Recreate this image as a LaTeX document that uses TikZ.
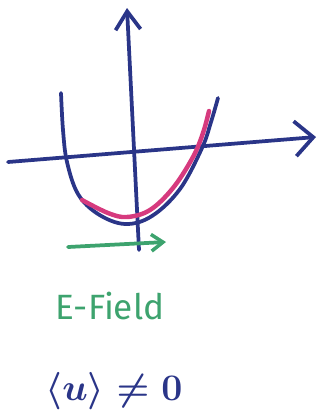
\RequirePackage{fix-cm}
\documentclass[tikz,border=0pt]{standalone}
\usepackage{fontspec}
\setmainfont{Fira Sans}
\usetikzlibrary{arrows.meta, positioning}
\definecolor{penblue}{HTML}{2A3588}
\definecolor{penpink}{HTML}{D63A7E}
\definecolor{pengreen}{HTML}{3DA36E}
\tikzset{
  pen/.style={line width=3.2pt, line cap=round, line join=round, draw=#1},
  axisarrow/.style={-{Straight Barb[length=0.55cm, width=#1, line width=3.2pt]}},
  label/.style={text=#1, font=\fontsize{30}{32}\selectfont, inner sep=0pt}
}
\begin{document}
\begin{tikzpicture}[x=0.03cm, y=-0.03cm]
    \useasboundingbox (0,0) rectangle (321,410);
    % Achsen
    \coordinate (ybot) at (139,250);
    \coordinate (ytop) at (127,8);
    \coordinate (xleft) at (8,162);
    \coordinate (xright) at (316,137);
    \draw[pen=penblue, axisarrow=0.75cm] (ybot) -- (ytop);
    \draw[pen=penblue, axisarrow=1.05cm] (xleft) -- (xright);

    % Potential
    \draw[pen=penblue] plot[smooth, tension=0.6] coordinates {
      (61,93) (63,130) (67,162) (78,194) (98,214) (125,224)
      (152,216) (180,189) (202,148) (211,122) (218,98)};
    \draw[pen=penpink, line width=3.8pt] plot[smooth, tension=0.6] coordinates {
      (82,200) (108,213) (127,217) (150,210) (173,188)
      (193,157) (203,133) (209,111)};

    % E-Feld
    \coordinate (efrom) at (68,247);
    \coordinate (eto) at (166,242);
    \draw[pen=pengreen, -{Straight Barb[length=0.35cm, width=0.5cm, line width=3pt]}]
      (efrom) -- (eto);
    \node[label=pengreen] (efield) at (110,306) {E-Field};
    \node[label=penblue, font=\fontsize{32}{34}\selectfont\boldmath,
          below=1.55cm of efield.south, anchor=north, xshift=0.12cm] (mean)
      {$\langle u\rangle \neq 0$};
\end{tikzpicture}
\end{document}
